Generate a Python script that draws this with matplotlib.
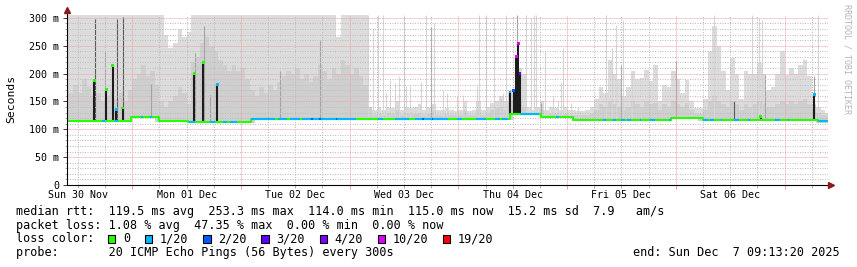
import matplotlib
matplotlib.use('Agg')
import matplotlib.pyplot as plt
from matplotlib.patches import Rectangle
import numpy as np

MONO = 'DejaVu Sans Mono'

# time is in hours counted from Sun 30 Nov 00:00
t_start, t_end = 9.6, 177.6
day_noon = [12, 36, 60, 84, 108, 132, 156]
day_labels = ['Sun 30 Nov', 'Mon 01 Dec', 'Tue 02 Dec', 'Wed 03 Dec',
              'Thu 04 Dec', 'Fri 05 Dec', 'Sat 06 Dec']
y_ticks = [0, 50, 100, 150, 200, 250, 300]
y_labels = ['0', '50 m', '100 m', '150 m', '200 m', '250 m', '300 m']

# median rtt (ms) as steps: level holds from each start hour
med_start = [9.6, 23.8, 29.9, 36.4, 50.3, 107.3, 114.3, 121.4, 143.0, 149.9, 175.3]
med_level = [115, 122, 115, 113, 119, 127, 122, 116, 120.5, 116, 114]

# smoke, hourly bins from Sun 30 Nov 09:00 (outer = max ping, mid = inner band)
smoke_max_sun30 = [310, 310, 310, 310, 310, 310, 310, 310, 310, 310, 310, 310, 310, 310, 310]
smoke_max_mon01 = [310, 310, 310, 310, 310, 310, 310, 270, 245, 255, 280, 265,
                   275, 310, 310, 310, 310, 310, 310, 310, 310, 310, 310, 310]
smoke_max_tue02 = [310, 310, 310, 310, 310, 310, 310, 310, 310, 310, 310, 310,
                   310, 310, 310, 310, 310, 310, 310, 310, 310, 265, 310, 310]
smoke_max_wed03 = [310, 310, 310, 310, 140, 135, 140, 135, 140, 138, 150, 135,
                   140, 138, 140, 145, 135, 140, 145, 135, 135, 138, 135, 132]
smoke_max_thu04 = [135, 150, 132, 135, 150, 135, 140, 148, 150, 160, 150, 170,
                   170, 210, 200, 140, 135, 140, 150, 135, 140, 138, 135, 140]
smoke_max_fri05 = [135, 135, 133, 133, 135, 140, 155, 175, 165, 225, 200, 190,
                   160, 175, 204, 190, 192, 207, 187, 215, 150, 180, 175, 204]
smoke_max_sat06 = [190, 165, 189, 150, 138, 138, 155, 240, 285, 250, 205, 170,
                   228, 200, 155, 205, 200, 200, 219, 200, 170, 175, 200, 240]
smoke_max_sun07 = [198, 210, 200, 215, 225, 195, 145, 140, 135, 130]

smoke_mid_sun30 = [170, 165, 180, 165, 190, 175, 160, 165, 150, 160, 170, 155, 165, 150, 170]
smoke_mid_mon01 = [190, 200, 215, 195, 205, 180, 150, 140, 150, 160, 175, 165,
                   145, 220, 230, 255, 265, 250, 240, 225, 215, 205, 215, 205]
smoke_mid_tue02 = [210, 190, 170, 160, 175, 165, 180, 170, 185, 195, 205, 200,
                   210, 190, 200, 185, 195, 215, 205, 190, 210, 200, 225, 215]
smoke_mid_wed03 = [200, 210, 195, 180, 140, 126, 128, 126, 130, 128, 135, 126,
                   128, 127, 128, 130, 126, 128, 132, 126, 126, 127, 126, 125]
smoke_mid_thu04 = [126, 135, 125, 126, 135, 126, 128, 135, 138, 140, 135, 150,
                   150, 150, 140, 128, 126, 128, 135, 126, 128, 127, 126, 128]
smoke_mid_fri05 = [126, 126, 125, 125, 126, 128, 135, 145, 140, 150, 145, 140,
                   135, 140, 150, 145, 140, 150, 145, 148, 135, 145, 140, 150]
smoke_mid_sat06 = [145, 140, 148, 135, 128, 128, 135, 150, 160, 150, 145, 140,
                   150, 145, 135, 145, 140, 145, 150, 145, 140, 140, 145, 150]
smoke_mid_sun07 = [145, 150, 145, 150, 155, 145, 135, 130, 126, 125]

# thin single-sample smoke spikes (hour, top ms)
light_h = [76.1, 77.2, 78.2, 79.4, 80.1, 80.9, 82.0, 82.9, 84.1, 84.5, 85.3, 87.8,
           88.8, 90.7, 92.5, 93.6, 95.6, 97.0, 100.1, 100.6, 102.2, 103.9, 105.1,
           105.9, 106.6, 111.0, 112.1, 112.8, 113.2, 115.1, 116.9, 118.0, 118.7,
           119.1, 120.9, 122.4, 128.7, 129.9, 130.7, 132.4, 134.4, 152.4, 160.8,
           162.4, 163.1, 175.3]
light_top = [305, 281, 305, 305, 166, 189, 183, 195, 305, 177, 177, 185,
             305, 290, 171, 165, 159, 162, 177, 305, 305, 300, 159,
             165, 305, 305, 300, 305, 305, 240, 160, 150, 185,
             245, 148, 140, 305, 245, 287, 296, 203, 305, 305,
             300, 296, 305]
dark_h = [18.0, 28.1, 37.9, 39.8, 41.2, 56.7, 65.5, 90.0, 109.0, 114.2, 131.9,
          144.1, 163.6, 174.5]
dark_top = [240, 181, 237, 285, 162, 204, 260, 283, 305, 147, 215, 222, 198, 195]
streak_h = [15.7, 20.6, 21.9, 156.9]
streak_top = [298, 297, 302, 150]

# median excursions (hour, ms, loss class)
bar_h = [15.6, 18.3, 19.7, 20.5, 21.9, 37.7, 39.7, 42.8, 107.4, 108.2, 108.8,
         109.2, 109.6, 162.7, 174.6]
bar_top = [188, 171, 214, 135, 138, 200, 220, 181, 167, 170, 230, 254, 200, 123, 162]
bar_loss = [0, 0, 0, 1, 0, 0, 0, 1, 1, 2, 5, 5, 3, 0, 1]

# loss colouring of the median line
loss_colors = ['#26ff00', '#00b8ff', '#0059ff', '#5e00ff', '#7e00ff', '#dd00ff', '#ff0000']
loss_labels = ['0', '1/20', '2/20', '3/20', '4/20', '10/20', '19/20']
blue_start = [17.4, 20.2, 26.0, 28.0, 36.6, 41.2, 44.1, 45.6, 50.3, 56.2, 58.9, 61.5,
              78.3, 82.1, 86.5, 95.6, 100.0, 104.0, 105.7, 109.7, 117.6, 128.0,
              130.2, 131.8, 133.3, 136.0, 138.2, 142.6, 149.9, 151.6, 153.9, 156.8,
              160.0, 165.8, 168.7, 175.3]
blue_end = [18.0, 20.9, 26.4, 28.4, 37.9, 42.3, 45.0, 47.2, 55.6, 58.2, 61.1, 73.5,
            79.4, 85.0, 93.8, 96.7, 102.2, 105.1, 107.0, 113.7, 118.3, 128.7,
            130.7, 132.7, 134.2, 136.4, 139.3, 143.0, 151.0, 152.5, 154.3, 157.9,
            160.4, 167.1, 169.1, 177.6]
dblue_start = [63.4, 65.2, 69.0, 88.0, 90.2]
dblue_end = [64.0, 65.7, 69.3, 88.4, 90.5]

stats_line = "median rtt:  119.5 ms avg  253.3 ms max  114.0 ms min  115.0 ms now  15.2 ms sd  7.9   am/s"
loss_line = "packet loss: 1.08 % avg  47.35 % max  0.00 % min  0.00 % now"
probe_line = "probe:       20 ICMP Echo Pings (56 Bytes) every 300s"
end_line = "end: Sun Dec  7 09:13:20 2025"


def median_at(h):
    i = np.searchsorted(med_start, h, side='right') - 1
    return med_level[max(i, 0)]


W, H = 857, 267
fig = plt.figure(figsize=(W / 100, H / 100), dpi=100)
ax = fig.add_axes([67 / W, (H - 185) / H, 761 / W, 170 / H])
ax.set_xlim(t_start, t_end)
ax.set_ylim(0, 305)

# smoke
smoke_max = (smoke_max_sun30 + smoke_max_mon01 + smoke_max_tue02 + smoke_max_wed03 +
             smoke_max_thu04 + smoke_max_fri05 + smoke_max_sat06 + smoke_max_sun07)
smoke_mid = (smoke_mid_sun30 + smoke_mid_mon01 + smoke_mid_tue02 + smoke_mid_wed03 +
             smoke_mid_thu04 + smoke_mid_fri05 + smoke_mid_sat06 + smoke_mid_sun07)
edges = np.arange(9, 9 + len(smoke_max) + 1)
low = [min(median_at(h), median_at(h + 1)) - 2 for h in edges[:-1]]
ax.stairs(smoke_max, edges, baseline=low, fill=True, color='#dcdcdc', lw=0, zorder=1)
ax.stairs(smoke_mid, edges, baseline=low, fill=True, color='#cfcfcf', lw=0, zorder=1.1)

ax.vlines(light_h, [median_at(h) for h in light_h], light_top,
          color='#d6d6d6', lw=0.8, zorder=1.2)
ax.vlines(dark_h, [median_at(h) for h in dark_h], dark_top,
          color='#a4a4a4', lw=0.8, zorder=1.3)
ax.vlines(streak_h, [median_at(h) for h in streak_h], streak_top,
          color='#5a5a5a', lw=0.8, zorder=1.4)

# grid
ax.set_xticks(list(range(24, 169, 24)))
ax.set_xticks([h for h in range(12, 178, 6) if h % 24 != 0], minor=True)
ax.set_xticklabels([])
ax.set_yticks(y_ticks)
ax.set_yticks(list(range(0, 301, 10)), minor=True)
ax.set_yticklabels(y_labels, family=MONO, fontsize=7.2)
ax.set_axisbelow(False)
ax.grid(True, which='major', color='#f0a4a4', ls=(0, (1, 1)), lw=0.72)
ax.grid(True, which='minor', color='#bdbdbd', ls=(0, (1, 1.5)), lw=0.72)
ax.tick_params(axis='x', which='major', length=3, width=0.72, color='#e8a0a0')
ax.tick_params(axis='x', which='minor', length=2, width=0.72, color='#b0b0b0')
ax.tick_params(axis='y', which='major', length=3, width=0.72, color='#404040', pad=2.5)
ax.tick_params(axis='y', which='minor', length=1.5, width=0.72, color='#b0b0b0')
for s in ax.spines.values():
    s.set_visible(False)

for h, lbl in zip(day_noon, day_labels):
    ax.annotate(lbl, xy=(h, 0), xycoords=('data', 'axes fraction'), xytext=(0, -10),
                textcoords='offset pixels', ha='center', va='center',
                family=MONO, fontsize=7.2)

# median excursions and median line
ax.vlines(bar_h, [median_at(h) for h in bar_h], bar_top, color='#1c1c1c', lw=1.5, zorder=3)


def draw_run(a, b, color):
    pts = [a] + [s for s in med_start if a < s < b] + [b]
    xs, ys = [], []
    for p, q in zip(pts[:-1], pts[1:]):
        xs += [p, q]
        ys += [median_at(p), median_at(p)]
    ax.plot(xs, ys, color=color, lw=1.5, solid_capstyle='butt', zorder=4)


draw_run(t_start, t_end, loss_colors[0])
for a, b in zip(blue_start, blue_end):
    draw_run(a, b, loss_colors[1])
for a, b in zip(dblue_start, dblue_end):
    draw_run(a, b, loss_colors[2])
ax.scatter(bar_h, bar_top, marker='s', s=4, c=[loss_colors[i] for i in bar_loss],
           linewidths=0, zorder=5)

# axes with arrows
ax.plot([0, 0], [0, 1.03], transform=ax.transAxes, color='black', lw=0.8,
        clip_on=False, zorder=6)
ax.plot([0, 1.004], [0, 0], transform=ax.transAxes, color='black', lw=0.8,
        clip_on=False, zorder=6)
ax.plot([0], [1.03], marker='^', ms=4, color='#8b1a1a', transform=ax.transAxes,
        clip_on=False, zorder=7)
ax.plot([1.004], [0], marker='>', ms=4, color='#8b1a1a', transform=ax.transAxes,
        clip_on=False, zorder=7)

fig.text(11 / W, 1 - 99 / H, 'Seconds', rotation=90, ha='center', va='center',
         family=MONO, fontsize=8.2)
fig.text(847 / W, 1 - 4 / H, 'RRDTOOL / TOBI OETIKER', rotation=270, ha='center',
         va='top', family=MONO, fontsize=6, color='#b4b4b4')


# legend block
def line_y(py):
    return 1 - py / H


LEG = 8.5
fig.text(16 / W, line_y(211.5), stats_line, family=MONO, fontsize=LEG, va='center')
fig.text(16 / W, line_y(225.3), loss_line, family=MONO, fontsize=LEG, va='center')
fig.text(16 / W, line_y(239), 'loss color:', family=MONO, fontsize=LEG, va='center')
fig.text(16 / W, line_y(252.7), probe_line, family=MONO, fontsize=LEG, va='center')
fig.text(840 / W, line_y(252.7), end_line, family=MONO, fontsize=LEG, va='center',
         ha='right')

bx = 108
for col, lbl in zip(loss_colors, loss_labels):
    fig.patches.append(Rectangle((bx / W, line_y(243.3)), 7.3 / W, 8.3 / H,
                                 transform=fig.transFigure, facecolor=col,
                                 edgecolor='black', lw=0.8))
    fig.text((bx + 15) / W, line_y(239), lbl, family=MONO, fontsize=LEG, va='center')
    bx = bx + 15 + 7.05 * len(lbl) + 15

fig.savefig('out.png', dpi=100)
